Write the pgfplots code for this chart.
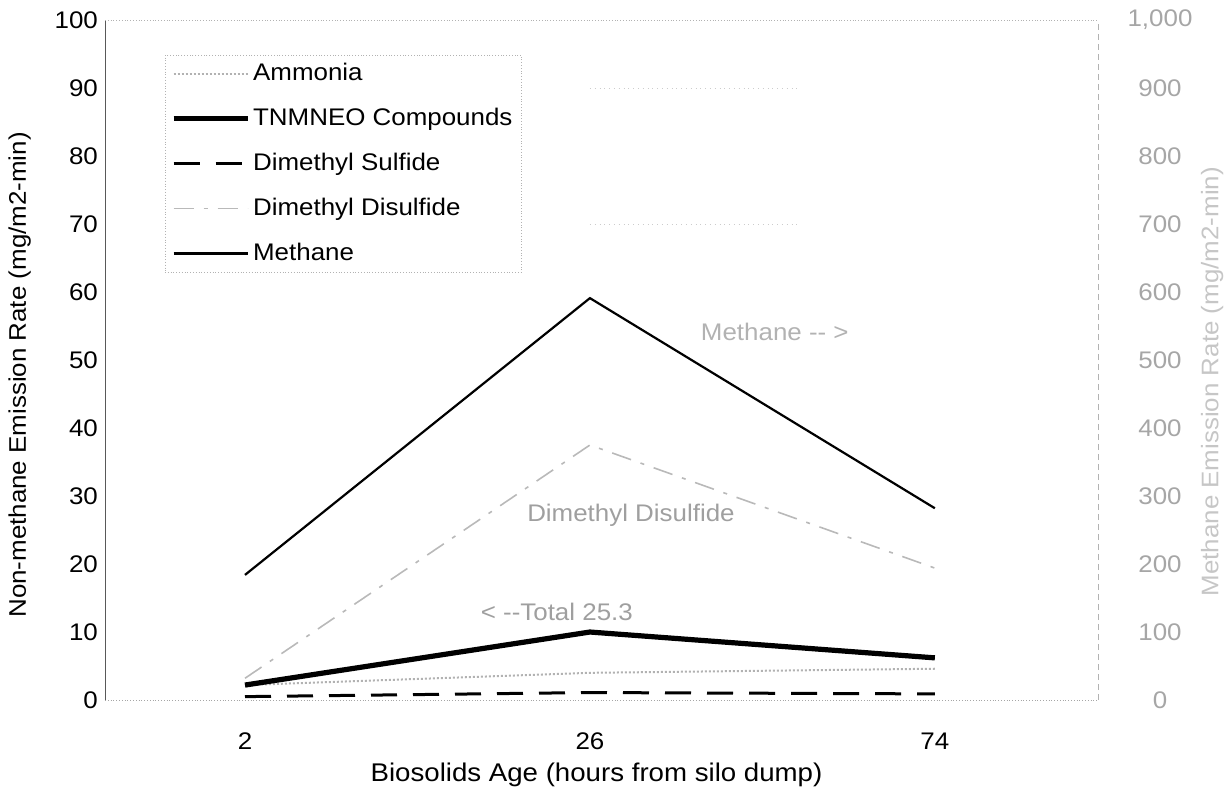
\documentclass[border=0pt]{standalone}
\usepackage{fontspec}
\setmainfont[FakeStretch=1.08]{Liberation Sans}
\usepackage{pgfplots}
\pgfplotsset{compat=1.18}

\pgfplotsset{
  base/.style={
    width=496.5pt, height=340pt, scale only axis,
    xmin=-0.406, xmax=2.473,
    font=\fontsize{12}{14}\selectfont,
    /pgf/number format/assume math mode=true,
    major tick length=0pt,
  }
}

\begin{document}
\begin{tikzpicture}
\begin{axis}[base,
    ymin=0, ymax=100,
    axis x line*=bottom, axis y line*=left,
    x axis line style={densely dotted, gray!70, -},
    y axis line style={gray!70!black, -},
    xtick={0,1,2}, xticklabels={2,26,74},
    ytick={0,10,...,100},
    xticklabel style={yshift=-13pt},
    xlabel={Biosolids Age (hours from silo dump)},
    xlabel style={at={(axis description cs:0.495,-0.110)}, anchor=center,
      font=\fontsize{12.8}{15}\selectfont},
    ylabel={Non-methane Emission Rate (mg/m2-min)},
    ylabel style={at={(axis description cs:-0.086,0.478)}, anchor=center, rotate=0},
    legend cell align=left,
    legend style={at={(axis description cs:0.06,0.949)}, anchor=north west,
      draw=gray!60, densely dotted, fill=white, row sep=8pt,
      nodes={inner sep=1.5pt, text height=9pt, text depth=2.5pt},
      font=\fontsize{12}{14}\selectfont},
    legend image code/.code={\draw[#1] (0pt,0pt) -- (37pt,0pt);},
]
\draw[densely dotted, gray!60] (rel axis cs:0,1) -- (rel axis cs:1,1);
\draw[dotted, gray!40] (axis cs:1.0,90) -- (axis cs:1.6,90);
\draw[dotted, gray!40] (axis cs:1.0,70) -- (axis cs:1.6,70);

\addplot[gray!60, densely dotted, line width=1pt] coordinates {(0,2.2) (1,4.0) (2,4.6)};
\addlegendentry{Ammonia}
\addplot[black, solid, line width=2.6pt] coordinates {(0,2.2) (1,10.0) (2,6.2)};
\addlegendentry{TNMNEO Compounds}
\addplot[black, line width=1.5pt, dash pattern=on 13pt off 8pt] coordinates {(0,0.5) (1,1.1) (2,0.9)};
\addlegendentry{Dimethyl Sulfide}
\addplot[gray!55, line width=0.8pt, dash pattern=on 10pt off 5pt on 2pt off 5pt] coordinates {(0,3.2) (1,37.5) (2,19.4)};
\addlegendentry{Dimethyl Disulfide}
\addlegendimage{black, solid, line width=1.1pt}
\addlegendentry{Methane}

\node[gray!60] at (axis cs:1.536,54.1) {Methane -{}- >};
\node[gray!75] at (axis cs:1.119,27.2) {Dimethyl Disulfide};
\node[gray!75] at (axis cs:0.904,12.9) {< -{}-Total 25.3};
\end{axis}

\begin{axis}[base,
    ymin=0, ymax=1000,
    axis x line=none, axis y line*=right,
    y axis line style={gray!60, densely dashed, -},
    ytick={0,100,...,1000},
    yticklabels={0,100,200,300,400,500,600,700,800,900,{1,000}},
    yticklabel style={gray!70, anchor=center, xshift=31pt},
    ylabel={Methane Emission Rate (mg/m2-min)},
    ylabel style={at={(axis description cs:1.115,0.468)}, anchor=center, rotate=0, gray!45},
]
\addplot[black, solid, line width=1.1pt] coordinates {(0,184) (1,591) (2,282)};
\coordinate (bl) at (rel axis cs:-0.1057,-0.1426);
\coordinate (tr) at (rel axis cs:1.1299,1.0294);
\end{axis}
\pgfresetboundingbox
\path[use as bounding box] (bl) rectangle (tr);
\end{tikzpicture}
\end{document}
